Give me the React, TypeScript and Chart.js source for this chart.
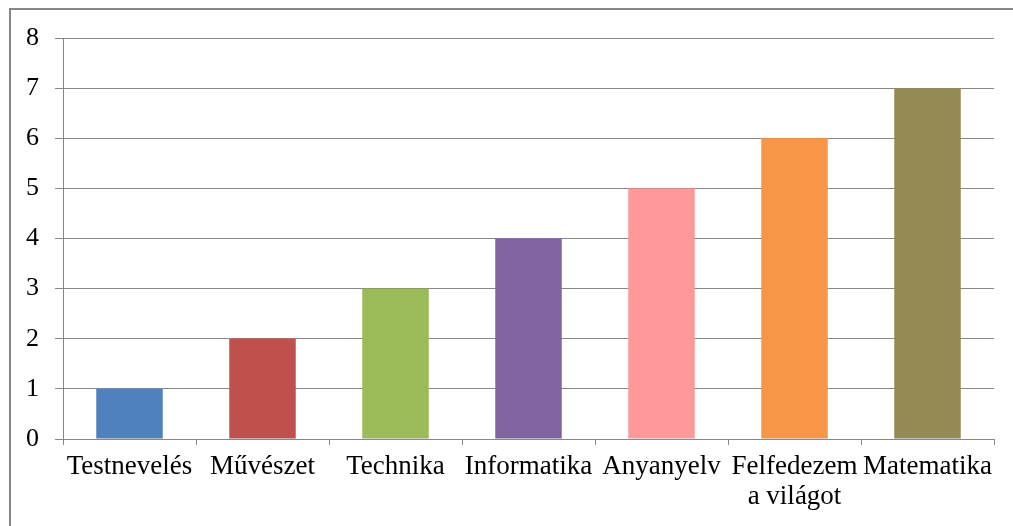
import React, { useEffect, useRef } from "react";
import { Chart, registerables } from "chart.js";

Chart.register(...registerables);

const categories: (string | string[])[] = [
  "Testnevelés",
  "Művészet",
  "Technika",
  "Informatika",
  "Anyanyelv",
  ["Felfedezem", "a világot"],
  "Matematika",
];
const values = [1, 2, 3, 4, 5, 6, 7];
const barColors = ["#4F81BD", "#C0504D", "#9BBB59", "#8064A2", "#FF9999", "#F79646", "#948A54"];
const yTicks = [0, 1, 2, 3, 4, 5, 6, 7, 8];

const FONT = "'Liberation Serif', 'Times New Roman', serif";
const GRID = "#888888";

const frame = {
  id: "frame",
  beforeDraw(chart: any) {
    const ctx = chart.ctx;
    ctx.save();
    ctx.fillStyle = "#ffffff";
    ctx.fillRect(0, 0, chart.width, chart.height);
    ctx.strokeStyle = "#878787";
    ctx.lineWidth = 2;
    ctx.beginPath();
    ctx.moveTo(10, chart.height + 5);
    ctx.lineTo(10, 9);
    ctx.lineTo(chart.width + 5, 9);
    ctx.stroke();
    ctx.restore();
  },
};

export default function App() {
  const ref = useRef<HTMLCanvasElement>(null);
  useEffect(() => {
    if (!ref.current) return;
    const chart = new Chart(ref.current, {
      type: "bar",
      data: {
        labels: categories,
        datasets: [
          {
            data: values,
            backgroundColor: barColors,
            barPercentage: 0.5,
            categoryPercentage: 1,
          },
        ],
      },
      options: {
        animation: false,
        responsive: false,
        devicePixelRatio: 1,
        layout: { padding: { left: 0, right: 19, top: 38, bottom: 0 } },
        plugins: { legend: { display: false }, tooltip: { enabled: false } },
        scales: {
          x: {
            offset: true,
            grid: {
              offset: true,
              drawOnChartArea: false,
              drawTicks: true,
              tickLength: 6,
              color: GRID,
            },
            border: { color: GRID, width: 1 },
            ticks: {
              color: "#000",
              font: { family: FONT, size: 27, lineHeight: 1.12 },
              padding: 7,
              autoSkip: false,
              maxRotation: 0,
              minRotation: 0,
            },
            afterFit: (s: any) => {
              s.height = 87;
            },
          },
          y: {
            min: 0,
            max: 8,
            afterBuildTicks: (s: any) => {
              s.ticks = yTicks.map((v) => ({ value: v }));
            },
            grid: { color: GRID, tickLength: 8, lineWidth: 1 },
            border: { color: GRID, width: 1 },
            ticks: {
              color: "#000",
              font: { family: FONT, size: 26 },
              padding: 16,
              stepSize: 1,
            },
            afterFit: (s: any) => {
              s.width = 63;
            },
          },
        },
      },
      plugins: [frame],
    });
    return () => chart.destroy();
  }, []);
  return (
    <canvas
      ref={ref}
      width={1013}
      height={526}
      style={{ position: "absolute", left: 0, top: 0, width: 1013, height: 526 }}
    />
  );
}
